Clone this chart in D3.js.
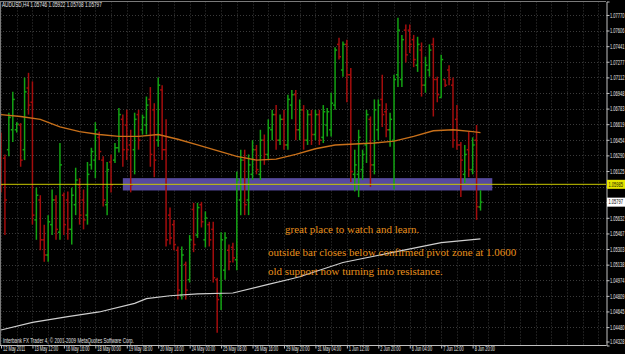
<!DOCTYPE html>
<html><head><meta charset="utf-8">
<script src="https://cdn.jsdelivr.net/npm/d3@7"></script>
<style>
html,body{margin:0;padding:0;background:#000;overflow:hidden}
svg{display:block}
</style></head><body>
<svg id="c" width="625" height="354"></svg>
<script>
// ---------------- data ----------------
const symbolTitle = "AUDUSD,H4 1.05746 1.05922 1.05708 1.05797";
const copyright = "Interbank FX Trader 4, \u00A9 2001-2009 MetaQuotes Software Corp.";
const timeLabels = ["12 May 2011","13 May 12:00","16 May 16:00","18 May 00:00","19 May 08:00","20 May 16:00","24 May 00:00","25 May 08:00","26 May 16:00","29 May 20:00","31 May 04:00","1 Jun 12:00","2 Jun 20:00","6 Jun 04:00","7 Jun 12:00","8 Jun 20:00"];
const timeLabelBars = [0,8,16,24,32,40,48,56,64,72,80,88,96,104,112,120];
const priceTicks = [1.07770,1.07606,1.07441,1.07277,1.07112,1.06948,1.06783,1.06619,1.06454,1.06290,1.06125,1.05961,1.05796,1.05632,1.05467,1.05303,1.05138,1.04974,1.04809,1.04645,1.04480,1.04328];

const opens = [1.0645,1.0626,1.0635,1.0656,1.0656,1.0661,1.0635,1.0700,1.0685,1.0561,
1.0582,1.0540,1.0524,1.0556,1.0582,1.0548,1.0587,1.0582,1.0551,1.0577,
1.0598,1.0582,1.0566,1.0619,1.0624,1.0648,1.0624,1.0577,1.0622,1.0624,
1.0637,1.0667,1.0661,1.0640,1.0635,1.0672,1.0656,1.0661,1.0688,1.0677,
1.0645,1.0698,1.0635,1.0566,1.0556,1.0529,1.0482,1.0514,1.0498,1.0572,
1.0545,1.0577,1.0540,1.0556,1.0551,1.0498,1.0482,1.0508,1.0529,1.0532,
1.0519,1.0582,1.0624,1.0582,1.0609,1.0635,1.0609,1.0645,1.0630,1.0656,
1.0672,1.0645,1.0667,1.0640,1.0682,1.0693,1.0656,1.0677,1.0645,1.0672,
1.0651,1.0672,1.0648,1.0661,1.0656,1.0682,1.0746,1.0719,1.0746,1.0714,
1.0609,1.0609,1.0614,1.0640,1.0667,1.0619,1.0656,1.0688,1.0675,1.0656,
1.0645,1.0714,1.0709,1.0761,1.0761,1.0751,1.0724,1.0740,1.0703,1.0719,
1.0746,1.0709,1.0690,1.0709,1.0719,1.0703,1.0667,1.0640,1.0609,1.0635,
1.0614,1.0645,1.05746];
const highs = [1.0653,1.0630,1.0674,1.0696,1.0664,1.0663,1.0711,1.0716,1.0707,1.0595,
1.0587,1.0556,1.0566,1.0593,1.0587,1.0642,1.0590,1.0591,1.0595,1.0616,
1.0605,1.0593,1.0622,1.0637,1.0664,1.0654,1.0628,1.0622,1.0630,1.0642,
1.0679,1.0672,1.0677,1.0656,1.0674,1.0677,1.0672,1.0691,1.0701,1.0684,
1.0711,1.0703,1.0667,1.0574,1.0561,1.0533,1.0533,1.0517,1.0545,1.0579,
1.0579,1.0580,1.0570,1.0559,1.0559,1.0500,1.0548,1.0548,1.0535,1.0537,
1.0612,1.0635,1.0635,1.0630,1.0645,1.0640,1.0656,1.0651,1.0667,1.0677,
1.0682,1.0672,1.0677,1.0693,1.0698,1.0698,1.0688,1.0682,1.0677,1.0677,
1.0677,1.0677,1.0682,1.0679,1.0695,1.0743,1.0753,1.0749,1.0751,1.0721,
1.0635,1.0656,1.0635,1.0677,1.0670,1.0688,1.0688,1.0714,1.0684,1.0674,
1.0714,1.0774,1.0756,1.0767,1.0767,1.0756,1.0754,1.0748,1.0733,1.0746,
1.0753,1.0712,1.0735,1.0709,1.0724,1.0711,1.0682,1.0643,1.0640,1.0654,
1.0648,1.0661,1.05922];
const lows = [1.0590,1.0545,1.0628,1.0643,1.0653,1.0617,1.0624,1.0672,1.0556,1.0540,
1.0529,1.0517,1.0517,1.0545,1.0540,1.0540,1.0545,1.0540,1.0535,1.0566,
1.0556,1.0551,1.0556,1.0614,1.0605,1.0624,1.0575,1.0566,1.0590,1.0621,
1.0632,1.0617,1.0624,1.0590,1.0609,1.0635,1.0651,1.0651,1.0617,1.0606,
1.0638,1.0624,1.0533,1.0535,1.0529,1.0477,1.0477,1.0477,1.0495,1.0527,
1.0542,1.0553,1.0532,1.0533,1.0495,1.0442,1.0466,1.0498,1.0508,1.0516,
1.0508,1.0566,1.0566,1.0566,1.0603,1.0609,1.0603,1.0619,1.0624,1.0645,
1.0635,1.0640,1.0635,1.0635,1.0667,1.0645,1.0645,1.0635,1.0640,1.0640,
1.0645,1.0640,1.0642,1.0649,1.0649,1.0677,1.0730,1.0712,1.0685,1.0601,
1.0591,1.0585,1.0603,1.0621,1.0596,1.0609,1.0645,1.0659,1.0648,1.0638,
1.0593,1.0701,1.0701,1.0727,1.0737,1.0722,1.0717,1.0691,1.0695,1.0712,
1.0670,1.0685,1.0690,1.0701,1.0703,1.0637,1.0635,1.0585,1.0600,1.0606,
1.0609,1.0561,1.05708];
const closes = [1.0598,1.0582,1.0669,1.0688,1.0662,1.0624,1.0696,1.0682,1.0566,1.0587,
1.0540,1.0524,1.0559,1.0582,1.0551,1.0619,1.0556,1.0551,1.0587,1.0603,
1.0566,1.0561,1.0609,1.0633,1.0656,1.0633,1.0582,1.0614,1.0598,1.0637,
1.0672,1.0635,1.0635,1.0598,1.0667,1.0645,1.0669,1.0682,1.0630,1.0624,
1.0703,1.0635,1.0540,1.0542,1.0535,1.0487,1.0524,1.0487,1.0540,1.0535,
1.0574,1.0559,1.0563,1.0540,1.0500,1.0477,1.0540,1.0542,1.0517,1.0521,
1.0603,1.0624,1.0577,1.0619,1.0635,1.0614,1.0645,1.0630,1.0658,1.0672,
1.0645,1.0667,1.0640,1.0688,1.0693,1.0656,1.0677,1.0645,1.0672,1.0651,
1.0672,1.0645,1.0675,1.0675,1.0684,1.0740,1.0733,1.0746,1.0714,1.0612,
1.0619,1.0648,1.0630,1.0672,1.0619,1.0677,1.0682,1.0672,1.0656,1.0667,
1.0709,1.0761,1.0751,1.0735,1.0746,1.0730,1.0746,1.0703,1.0724,1.0740,
1.0709,1.0693,1.0730,1.0703,1.0709,1.0645,1.0640,1.0624,1.0630,1.0614,
1.0640,1.0575,1.05797];

// moving averages, read at sampled bars
const maFastBars   = [0,5,10,15,20,25,30,35,40,45,50,55,60,65,70,75,80,85,90,95,100,105,110,115,120,122];
const maFastValues = [1.0672,1.0670,1.0667,1.0659,1.0654,1.0651,1.0649,1.0649,1.0651,1.0646,1.0640,1.0634,1.0628,1.0624,1.0625,1.0630,1.0636,1.0640,1.0641,1.0642,1.0644,1.0649,1.0655,1.0656,1.0654,1.0653];
const maSlowBars   = [0,8,17,25,34,37,43,50,59,68,74,76,87,100,112,122];
const maSlowValues = [1.0445,1.0453,1.0459,1.0464,1.0473,1.0478,1.0481,1.0483,1.0484,1.0493,1.0499,1.0501,1.0516,1.0527,1.0537,1.0541];

const zoneTop = 1.0605, zoneBottom = 1.0592, zoneStartBar = 31, zoneEndBar = 125;
const pivotLine = 1.05985;
const lastClose = 1.05797;
const notes = ["great place to watch and learn.",
               "outside bar closes below confirmed pivot zone at 1.0600",
               "old support now turning into resistance."];

// ---------------- layout ----------------
const svg = d3.select("#c");
const plotL = 0, plotR = 606, plotT = 1.5, plotB = 345.5;
const x = d3.scaleLinear().domain([0, 122]).range([1, 480.5]);
const y = d3.scaleLinear().domain([1.04286, 1.07912]).range([plotB, plotT]);

svg.append("rect").attr("width",625).attr("height",354).attr("fill","#000");

// narrow a text horizontally with a real transform (so its box shrinks too)
function hscale(sel, f){
  sel.each(function(){
    const t = d3.select(this);
    const x0 = +t.attr("x") || 0;
    t.attr("x", x0 / f).attr("transform", `scale(${f},1)`);
  });
}
function hfit(sel, w){
  sel.each(function(){
    const f = w / this.getComputedTextLength();
    hscale(d3.select(this), f);
  });
}

// grid
const grid = svg.append("g").attr("stroke","#3a3a3a").attr("stroke-width",1).attr("stroke-dasharray","1,2");
const gridBars = d3.range(0, 155, 4);
grid.selectAll("line.v").data(gridBars).join("line").attr("class","v")
  .attr("x1",d=>Math.round(x(d))+0.5).attr("x2",d=>Math.round(x(d))+0.5)
  .attr("y1",plotT).attr("y2",plotB);
grid.selectAll("line.h").data(priceTicks.slice(0,-1)).join("line").attr("class","h")
  .attr("x1",plotL).attr("x2",plotR)
  .attr("y1",d=>Math.round(y(d))+0.5).attr("y2",d=>Math.round(y(d))+0.5);

// pivot zone rectangle
svg.append("rect")
  .attr("x", x(zoneStartBar)).attr("width", x(zoneEndBar)-x(zoneStartBar))
  .attr("y", y(zoneTop)).attr("height", y(zoneBottom)-y(zoneTop))
  .attr("fill","#564a9e");

// bars
const bars = opens.map((o,i)=>({i, o, h:highs[i], l:lows[i], c:closes[i]}));
const bg = svg.append("g").attr("stroke-width",1.5);
const bar = bg.selectAll("g").data(bars).join("g")
  .attr("stroke", d => d.c >= d.o ? "#13a313" : "#a30d0d");
bar.append("line").attr("x1",d=>x(d.i)).attr("x2",d=>x(d.i)).attr("y1",d=>y(d.h)).attr("y2",d=>y(d.l));
bar.append("line").attr("x1",d=>x(d.i)-2).attr("x2",d=>x(d.i)).attr("y1",d=>y(d.o)).attr("y2",d=>y(d.o));
bar.append("line").attr("x1",d=>x(d.i)).attr("x2",d=>x(d.i)+2).attr("y1",d=>y(d.c)).attr("y2",d=>y(d.c));

// moving averages
const lineGen = d3.line().x(d=>x(d[0])).y(d=>y(d[1]));
svg.append("path").datum(maSlowBars.map((b,i)=>[b,maSlowValues[i]]))
  .attr("d",lineGen).attr("fill","none").attr("stroke","#cfcfcf").attr("stroke-width",1.1);
svg.append("path").datum(maFastBars.map((b,i)=>[b,maFastValues[i]]))
  .attr("d",lineGen).attr("fill","none").attr("stroke","#c8701a").attr("stroke-width",1.4);

// pivot horizontal line
svg.append("line").attr("x1",plotL).attr("x2",plotR)
  .attr("y1",y(pivotLine)).attr("y2",y(pivotLine))
  .attr("stroke","#c8c800").attr("stroke-width",1);

// frame
svg.append("line").attr("x1",0).attr("x2",plotR).attr("y1",plotT).attr("y2",plotT).attr("stroke","#7a7a7a");
svg.append("line").attr("x1",0.5).attr("x2",0.5).attr("y1",plotT).attr("y2",plotB).attr("stroke","#7a7a7a");
svg.append("line").attr("x1",0).attr("x2",plotR+0.5).attr("y1",plotB).attr("y2",plotB).attr("stroke","#c0c0c0");

// right price axis (labels hidden behind value boxes are left out)
const boxValues = [pivotLine, lastClose];
const yAxis = d3.axisRight(y).tickValues(priceTicks).tickFormat(d3.format(".5f")).tickSize(3).tickPadding(0.5);
const ya = svg.append("g").attr("transform",`translate(${plotR+0.5},0)`).call(yAxis);
ya.select(".domain").attr("stroke","#c0c0c0");
ya.selectAll(".tick line").attr("stroke","#c0c0c0");
ya.selectAll(".tick").filter(d => boxValues.some(v => Math.abs(y(v)-y(d)) < 9)).select("text").remove();
ya.selectAll(".tick text").attr("fill","#e6e6e6").attr("font-family","Liberation Sans").attr("font-size","6.5px").attr("dy","0.35em").call(hfit,14.5);

// bottom time axis
const xAxis = d3.axisBottom(x).tickValues(timeLabelBars).tickFormat((d,i)=>timeLabels[i]).tickSize(3).tickSizeOuter(0);
const xa = svg.append("g").attr("transform",`translate(0,${plotB})`).call(xAxis);
xa.select(".domain").remove();
xa.selectAll(".tick line").attr("stroke","#c0c0c0");
xa.selectAll(".tick text").attr("fill","#e6e6e6").attr("font-family","Liberation Sans").attr("font-size","6.5px")
  .attr("text-anchor","start").attr("x",1.5).attr("y",5.8).attr("dy",0).call(hscale,0.6);

// axis value boxes
function valueBox(v, bgc, fg){
  const yy = y(v);
  svg.append("rect").attr("x",plotR+1).attr("y",yy-4.5).attr("width",18).attr("height",9).attr("fill",bgc);
  svg.append("text").attr("x",plotR+2.5).attr("y",yy).attr("dy","0.35em").text(d3.format(".5f")(v))
    .attr("fill",fg).attr("font-family","Liberation Sans").attr("font-size","6.5px").call(hfit,14.5);
}
valueBox(pivotLine, "#e6e600", "#202000");
valueBox(lastClose, "#ffffff", "#000000");

// header and copyright
svg.append("text").attr("x",2).attr("y",7.5).text(symbolTitle)
  .attr("fill","#e8e8e8").attr("font-family","Liberation Sans").attr("font-size","6.5px").call(hscale,0.72);
svg.append("text").attr("x",3).attr("y",343.5).text(copyright)
  .attr("fill","#e0e0e0").attr("font-family","Liberation Sans").attr("font-size","6.5px").call(hscale,0.7);

// annotations
const noteX = [285, 268, 268], noteY = [232.5, 256, 275];
svg.selectAll("text.note").data(notes).join("text").attr("class","note")
  .attr("x",(d,i)=>noteX[i]).attr("y",(d,i)=>noteY[i]).text(d=>d)
  .attr("fill","#e8901c").attr("font-family","Liberation Serif").attr("font-size","11px");
</script>
</body></html>
